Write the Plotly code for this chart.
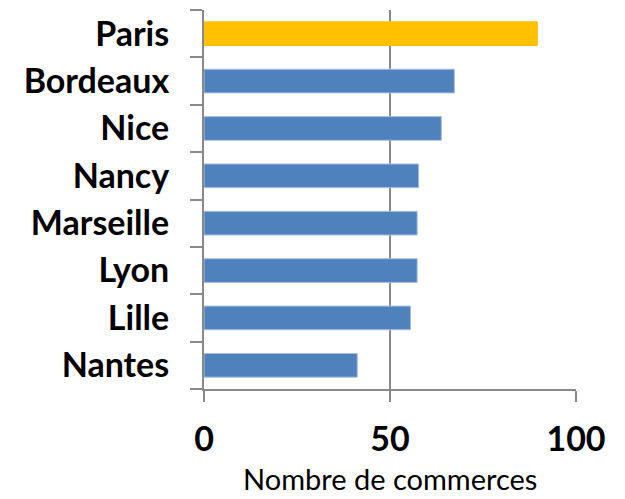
import plotly.graph_objects as go

cities = ["Paris", "Bordeaux", "Nice", "Nancy", "Marseille", "Lyon", "Lille", "Nantes"]
values = [89.6, 67.3, 63.8, 57.7, 57.3, 57.3, 55.5, 41.2]
highlight = "Paris"
tick_vals = [0, 50, 100]
x_title = "Nombre de commerces"

colors = ["#FFC000" if c == highlight else "#4F81BD" for c in cities]
line_colors = ["#FFC000" if c == highlight else "#A7BFDE" for c in cities]

fig = go.Figure(go.Bar(
    x=values, y=cities, orientation="h",
    marker=dict(color=colors, line=dict(color=line_colors, width=1)),
    width=0.5,
))

# the page body has an 8px default margin, so the figure is offset by 8px
fig.update_layout(
    width=617, height=491,
    margin=dict(l=196, r=49, t=2, b=110),
    plot_bgcolor="white", paper_bgcolor="white",
    showlegend=False,
    font=dict(family="Lato", color="#000000"),
    bargap=0.5,
)
fig.update_xaxes(
    range=[0, 100], tickvals=tick_vals,
    showgrid=True, gridcolor="#898989", gridwidth=2,
    showline=True, linecolor="#898989", linewidth=2,
    ticks="outside", ticklen=11, tickwidth=2, tickcolor="#898989",
    tickfont=dict(size=34, family="Lato", weight="bold"),
    ticklabelstandoff=8,
    zeroline=False,
    automargin=False,
)
fig.add_annotation(
    text=x_title, xref="paper", yref="paper", x=0.5, y=0,
    xanchor="center", yanchor="top", yshift=-70, showarrow=False,
    font=dict(size=29, family="Lato", color="#000000"),
)
fig.update_yaxes(
    categoryorder="array", categoryarray=cities[::-1],
    showline=True, linecolor="#898989", linewidth=2,
    ticks="outside", ticklen=12, tickwidth=2, tickcolor="#898989",
    tickson="boundaries",
    tickfont=dict(size=34, family="Lato", weight="bold"),
    ticklabelstandoff=26,
    showgrid=False,
    automargin=False,
)

fig.write_html("out.html")
